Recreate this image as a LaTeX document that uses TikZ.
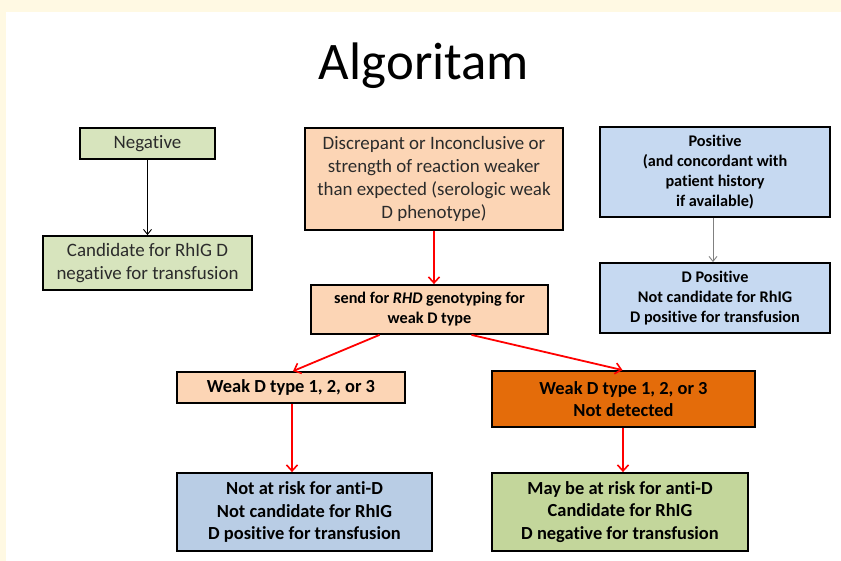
\documentclass[tikz,border=0pt]{standalone}
\usepackage{fontspec}
\setmainfont[Ligatures=NoCommon]{Carlito}
\usetikzlibrary{arrows.meta,calc}
\definecolor{cream}{HTML}{FFF9E3}
\definecolor{lgreen}{HTML}{D7E4BD}
\definecolor{dgreen}{HTML}{C3D69B}
\definecolor{peach}{HTML}{FCD5B5}
\definecolor{lblue}{HTML}{C6D9F1}
\definecolor{mblue}{HTML}{B9CDE5}
\definecolor{orng}{HTML}{E46C0A}
\definecolor{redline}{HTML}{FF0000}
\definecolor{txt}{HTML}{2B2B2B}
\begin{document}
\begin{tikzpicture}[x=1bp,y=-1bp,
  box/.style={draw=black,line width=1.8bp,align=center,inner sep=0pt,text=txt,
    font=\fontsize{19}{23}\selectfont},
  bbox/.style={box,text=black,font=\fontsize{16.3}{20}\selectfont\bfseries},
  bbbox/.style={box,text=black,font=\fontsize{18.5}{22.5}\selectfont\bfseries},
  redarrow/.style={draw=redline,color=redline,line width=1.8bp,-{Straight Barb[length=6bp,width=11bp,line width=1.6bp]}},
  thinarrow/.style={draw=#1,line width=0.9bp,-{Straight Barb[length=5bp,width=8bp]}}
]
\useasboundingbox (0,0) rectangle (841,561);
\fill[cream] (0,0) rectangle (841,12);
\fill[cream] (0,0) rectangle (6,561);

\node[font=\fontsize{53}{60}\selectfont,inner sep=0pt] (title) at (424,66) {Algoritam};

\node[box,fill=lgreen,minimum width=135bp,minimum height=31bp] (neg) at (147.5,143.5) {Negative};
\node[box,fill=lgreen,minimum width=209bp,minimum height=54bp] (cand) at (147.5,263) {Candidate for RhIG D\\negative for transfusion};
\node[box,fill=peach,minimum width=258bp,minimum height=102bp] (disc) at (434,179) {Discrepant or Inconclusive or\\strength of reaction weaker\\than expected (serologic weak\\D phenotype)};
\node[bbox,fill=peach,minimum width=237bp,minimum height=49bp] (send) at (429.5,309.5) {send for \textit{RHD} genotyping for\\weak D type};
\node[bbox,fill=lblue,minimum width=230bp,minimum height=90bp] (pos) at (715,172) {Positive\\(and concordant with\\patient history\\if available)};
\node[bbox,fill=lblue,minimum width=230bp,minimum height=70bp] (dpos) at (715,298) {D Positive\\Not candidate for RhIG\\D positive for transfusion};
\node[bbbox,fill=peach,minimum width=228bp,minimum height=31bp] (weak1) at (291,387.5) {Weak D type 1, 2, or 3};
\node[bbbox,fill=orng,minimum width=263bp,minimum height=56bp] (weak2) at (623.5,399) {Weak D type 1, 2, or 3\\Not detected};
\node[bbbox,fill=mblue,minimum width=255bp,minimum height=78bp] (notrisk) at (304.5,512) {Not at risk for anti-D\\Not candidate for RhIG\\D positive for transfusion};
\node[bbbox,fill=dgreen,minimum width=256bp,minimum height=78bp] (maybe) at (620,512) {May be at risk for anti-D\\Candidate for RhIG\\D negative for transfusion};

\draw[thinarrow=black] (neg.south) -- (neg.south |- cand.north);
\draw[thinarrow=gray] ([xshift=-2bp]pos.south) -- ([xshift=-2bp]pos.south |- dpos.north);
\draw[redarrow] (disc.south) -- (disc.south |- send.north);
\draw[redarrow] ([xshift=-50bp]send.south) -- ([xshift=2bp]weak1.north);
\draw[redarrow] ([xshift=42bp]send.south) -- ([xshift=-1bp]weak2.north);
\draw[redarrow] ([xshift=1bp]weak1.south) -- ([xshift=1bp]weak1.south |- notrisk.north);
\draw[redarrow] ([xshift=-0.5bp]weak2.south) -- ([xshift=-0.5bp]weak2.south |- maybe.north);
\end{tikzpicture}
\end{document}
